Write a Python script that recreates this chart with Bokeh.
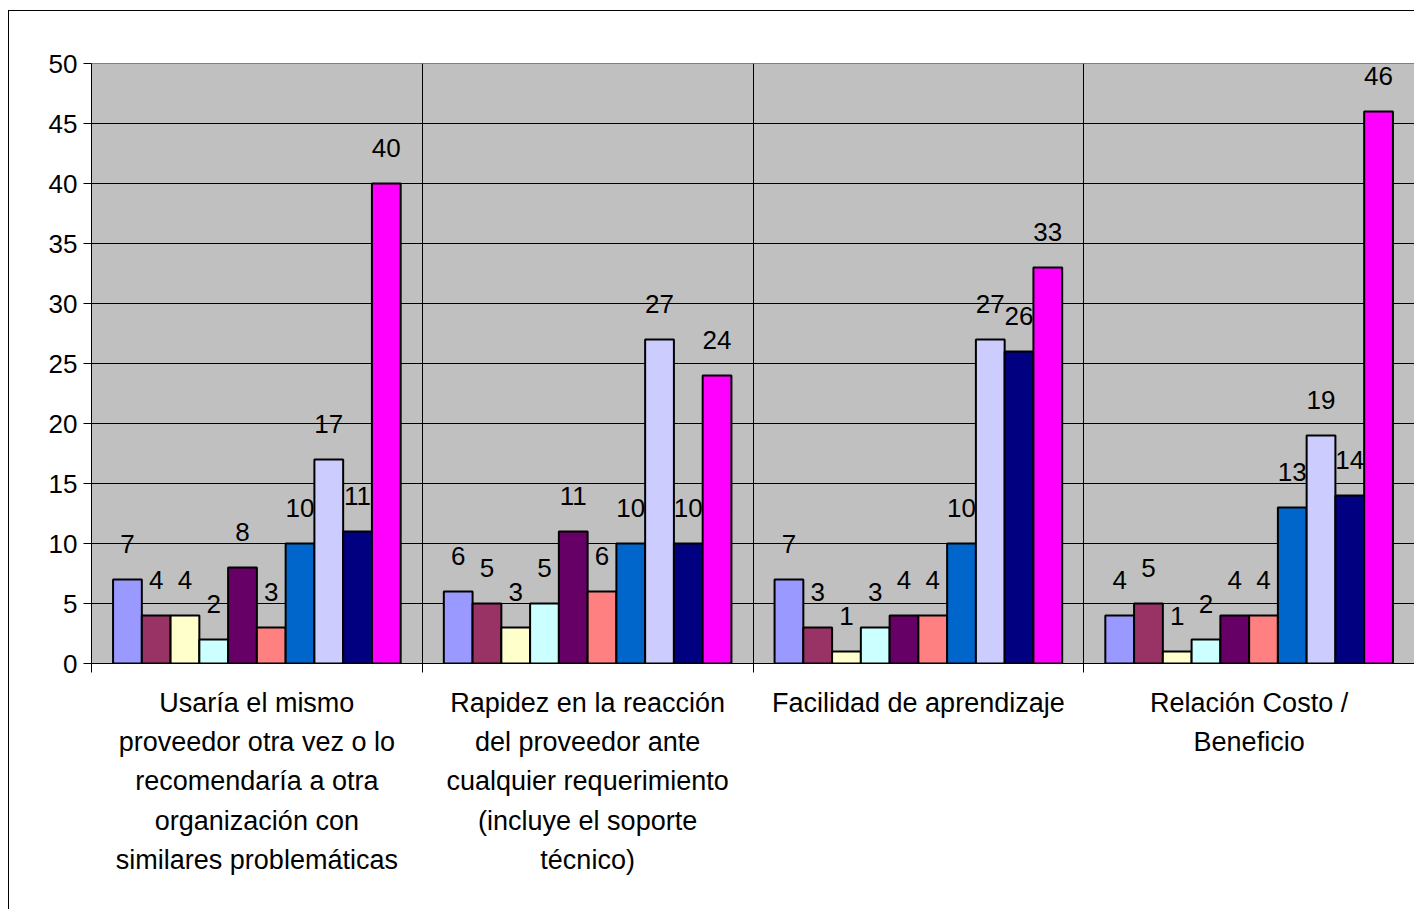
from bokeh.plotting import figure
from bokeh.models import ColumnDataSource, Range1d, FixedTicker, LinearAxis
from bokeh.core.properties import value
from bokeh.embed import file_html
from bokeh.resources import INLINE

category_lines = [
    ["Usaría el mismo", "proveedor otra vez o lo", "recomendaría a otra",
     "organización con", "similares problemáticas"],
    ["Rapidez en la reacción", "del proveedor ante", "cualquier requerimiento",
     "(incluye el soporte", "técnico)"],
    ["Facilidad de aprendizaje"],
    ["Relación Costo /", "Beneficio"],
]

s1 = [7, 6, 7, 4]
s2 = [4, 5, 3, 5]
s3 = [4, 3, 1, 1]
s4 = [2, 5, 3, 2]
s5 = [8, 11, 4, 4]
s6 = [3, 6, 4, 4]
s7 = [10, 10, 10, 13]
s8 = [17, 27, 27, 19]
s9 = [11, 10, 26, 14]
s10 = [40, 24, 33, 46]
series = [s1, s2, s3, s4, s5, s6, s7, s8, s9, s10]

colors = ["#9999FF", "#993366", "#FFFFCC", "#CCFFFF", "#660066",
          "#FF8080", "#0066CC", "#CCCCFF", "#000080", "#FF00FF"]

y_ticks = list(range(0, 51, 5))

FONT = "Liberation Sans"
FS = "26px"
CAT_FS = "27px"

ncat = len(category_lines)
nser = len(series)
gap = 1.5  # Excel gap width 150%
slot = nser + gap
bar_w = 1.0 / slot

p = figure(width=1406, height=899, x_range=Range1d(0, ncat), y_range=Range1d(0, 50),
           output_backend="svg", toolbar_location=None,
           background_fill_color="#C0C0C0", border_fill_color="white",
           outline_line_color="#808080", outline_line_width=1,
           x_axis_location=None,
           min_border_left=82, min_border_right=1, min_border_top=52, min_border_bottom=247)
p.styles = {"border-left": "1px solid #000000", "border-top": "1px solid #000000",
            "margin-left": "8px", "margin-top": "10px"}

# y axis
p.yaxis.ticker = FixedTicker(ticks=y_ticks)
p.yaxis.major_tick_out = 8
p.yaxis.major_tick_in = 0
p.yaxis.minor_tick_line_color = None
p.yaxis.axis_line_color = "black"
p.yaxis.major_tick_line_color = "black"
p.yaxis.major_label_text_font = FONT
p.yaxis.major_label_text_font_size = FS
p.yaxis.major_label_text_color = "black"
p.yaxis.major_label_standoff = 6

# x axis line with ticks at the category edges
edge_axis = LinearAxis(ticker=FixedTicker(ticks=list(range(ncat + 1))),
                       major_label_overrides={i: "" for i in range(ncat + 1)},
                       major_tick_out=9, major_tick_in=0, minor_tick_line_color=None,
                       axis_line_color="black", major_tick_line_color="black",
                       major_label_standoff=0, major_label_text_font_size="1px")
p.add_layout(edge_axis, "below")

# category names centred under each group
cat_axis = LinearAxis(ticker=FixedTicker(ticks=[i + 0.5 for i in range(ncat)]),
                      major_label_overrides={i + 0.5: "\n".join(l) for i, l in enumerate(category_lines)},
                      major_tick_line_color=None, minor_tick_line_color=None,
                      axis_line_color=None,
                      major_label_text_font=FONT, major_label_text_font_size=CAT_FS,
                      major_label_text_color="black", major_label_text_line_height=1.315,
                      major_label_standoff=9)
p.add_layout(cat_axis, "below")

p.ygrid.ticker = FixedTicker(ticks=y_ticks)
p.ygrid.grid_line_color = "black"
p.ygrid.grid_line_width = 1
p.xgrid.ticker = FixedTicker(ticks=list(range(1, ncat)))
p.xgrid.grid_line_color = "black"
p.xgrid.grid_line_width = 1

# bars and labels
for j, (vals, col) in enumerate(zip(series, colors)):
    xs = [i + (gap / 2 + j + 0.5) / slot for i in range(ncat)]
    src = ColumnDataSource(dict(x=xs, top=vals, lab=[str(v) for v in vals]))
    p.vbar(x="x", top="top", width=bar_w, bottom=0, source=src,
           fill_color=col, line_color="black", line_width=2)
    p.text(x="x", y="top", text="lab", source=src, y_offset=-36,
           text_align="center", text_baseline="middle",
           text_font=value(FONT), text_font_size=FS, text_color="black")

open("out.html", "w").write(file_html(p, INLINE))
